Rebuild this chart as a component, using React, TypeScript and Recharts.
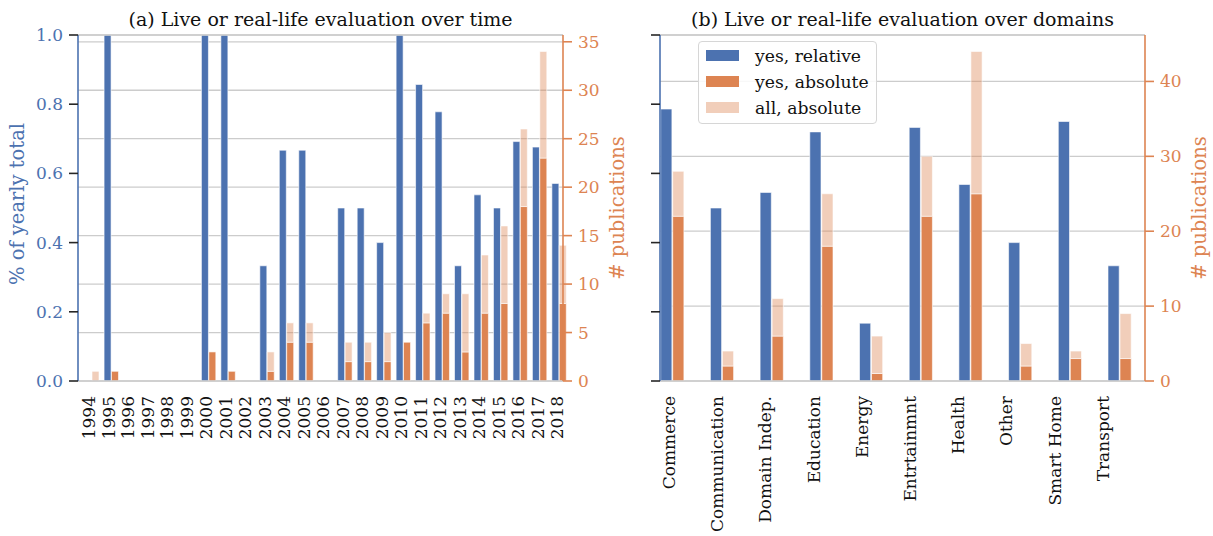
import React from 'react';
import { BarChart, Bar, XAxis, YAxis, CartesianGrid, ReferenceLine, Legend } from 'recharts';

const BLUE = '#4c72b0';
const ORANGE = '#dd8452';
const GRID = '#cccccc';
const TICK_DARK = '#262626';
const FONT = '"DejaVu Serif", serif';
const TICK_FS = 17;

// ---- Panel (a): per year ----
const years = ['1994', '1995', '1996', '1997', '1998', '1999', '2000', '2001', '2002', '2003', '2004', '2005', '2006', '2007', '2008', '2009', '2010', '2011', '2012', '2013', '2014', '2015', '2016', '2017', '2018'];
const yearRelative = [0, 1, 0, 0, 0, 0, 1, 1, 0, 0.333, 0.667, 0.667, 0, 0.5, 0.5, 0.4, 1, 0.857, 0.778, 0.333, 0.538, 0.5, 0.692, 0.676, 0.571];
const yearYesAbsolute = [0, 1, 0, 0, 0, 0, 3, 1, 0, 1, 4, 4, 0, 2, 2, 2, 4, 6, 7, 3, 7, 8, 18, 23, 8];
const yearAllAbsolute = [1, 1, 0, 0, 0, 0, 3, 1, 0, 3, 6, 6, 0, 4, 4, 5, 4, 7, 9, 9, 13, 16, 26, 34, 14];

// ---- Panel (b): per domain ----
const domains = ['Commerce', 'Communication', 'Domain Indep.', 'Education', 'Energy', 'Entrtainmnt', 'Health', 'Other', 'Smart Home', 'Transport'];
const domainRelative = [0.786, 0.5, 0.545, 0.72, 0.167, 0.733, 0.568, 0.4, 0.75, 0.333];
const domainYesAbsolute = [22, 2, 6, 18, 1, 22, 25, 2, 3, 3];
const domainAllAbsolute = [28, 4, 11, 25, 6, 30, 44, 5, 4, 9];

// ---- Axis ticks / limits ----
const relTicks = [0, 0.2, 0.4, 0.6, 0.8, 1.0];
const yearCountTicks = [0, 5, 10, 15, 20, 25, 30, 35];
const domainCountTicks = [0, 10, 20, 30, 40];
const yearCountMax = 35.7;
const domainCountMax = 46.2;

const legendItems = [
  { label: 'yes, relative', color: BLUE, opacity: 1 },
  { label: 'yes, absolute', color: ORANGE, opacity: 1 },
  { label: 'all, absolute', color: ORANGE, opacity: 0.4 },
];

const buildTable = (names: string[], rel: number[], yes: number[], all: number[]) =>
  names.map((name, i) => ({ name, rel: rel[i], yes: yes[i], rest: all[i] - yes[i] }));

const yearTable = buildTable(years, yearRelative, yearYesAbsolute, yearAllAbsolute);
const domainTable = buildTable(domains, domainRelative, domainYesAbsolute, domainAllAbsolute);

const RotTick = (props: any) => {
  const { x, y, payload } = props;
  return (
    <text
      x={x}
      y={y}
      transform={`rotate(-90, ${x}, ${y})`}
      textAnchor="end"
      dominantBaseline="central"
      fontFamily={FONT}
      fontSize={TICK_FS}
      fill="#111"
    >
      {payload.value}
    </text>
  );
};

const rotLabel = (text: string, color: string, dx: number, dy: number) => (props: any) => {
  const vb = props.viewBox || {};
  const x = vb.x + dx;
  const y = vb.y + vb.height / 2 + dy;
  return (
    <text
      x={x}
      y={y}
      transform={`rotate(-90, ${x}, ${y})`}
      textAnchor="middle"
      dominantBaseline="central"
      fontFamily={FONT}
      fontSize={19.5}
      fill={color}
    >
      {text}
    </text>
  );
};

const titleLabel = (text: string) => (props: any) => {
  const vb = props.viewBox || {};
  return (
    <text
      x={vb.x + (vb.width || 0) / 2}
      y={vb.y - 9}
      textAnchor="middle"
      fontFamily={FONT}
      fontSize={19}
      fill="#111"
    >
      {text}
    </text>
  );
};

const LegendBox = () => (
  <div
    style={{
      position: 'relative',
      width: 179,
      height: 83,
      boxSizing: 'border-box',
      border: '1px solid #d6d6d6',
      borderRadius: 4,
      background: 'rgba(255,255,255,0.85)',
      fontFamily: FONT,
      fontSize: 17.2,
      color: '#111',
    }}
  >
    {legendItems.map((it, i) => (
      <div key={it.label} style={{ position: 'absolute', left: 0, top: 14 + i * 26 - 10, height: 20, width: 179 }}>
        <div
          style={{
            position: 'absolute',
            left: 7,
            top: 4.5,
            width: 33,
            height: 11,
            background: it.color,
            opacity: it.opacity,
          }}
        />
        <div style={{ position: 'absolute', left: 56, top: 0, lineHeight: '20px', whiteSpace: 'nowrap' }}>{it.label}</div>
      </div>
    ))}
  </div>
);

interface PanelProps {
  data: any[];
  title: string;
  width: number;
  leftWidth: number;
  rightWidth: number;
  barPad: { left: number; right: number };
  labelPad: { left: number; right: number };
  barSize: number;
  barGap: number;
  countMax: number;
  countTicks: number[];
  showRelLabels: boolean;
  showLegend: boolean;
}

function Panel(p: PanelProps) {
  return (
    <BarChart
      width={p.width}
      height={536}
      data={p.data}
      margin={{ top: 35, right: 0, bottom: 0, left: 0 }}
      barSize={p.barSize}
      barGap={p.barGap}
    >
      <XAxis
        xAxisId="labels"
        dataKey="name"
        height={155}
        interval={0}
        padding={p.labelPad}
        tickLine={false}
        tickSize={0}
        tickMargin={15}
        axisLine={{ stroke: GRID, strokeWidth: 1.5 }}
        tick={<RotTick />}
      />
      <XAxis xAxisId="bars" dataKey="name" hide height={0} padding={p.barPad} />
      <YAxis
        yAxisId="rel"
        orientation="left"
        width={p.leftWidth}
        domain={[0, 1]}
        ticks={relTicks}
        allowDataOverflow
        interval={0}
        tickSize={9}
        tickMargin={6}
        tickLine={{ stroke: TICK_DARK, strokeWidth: 1.6 }}
        axisLine={{ stroke: BLUE, strokeWidth: 1.6 }}
        tick={{ fill: BLUE, fontSize: TICK_FS, fontFamily: FONT }}
        tickFormatter={(v: number) => (p.showRelLabels ? v.toFixed(1) : '')}
        label={p.showRelLabels ? { content: rotLabel('% of yearly total', BLUE, 17.5, -4) } : undefined}
      />
      <YAxis
        yAxisId="count"
        orientation="right"
        width={p.rightWidth}
        domain={[0, p.countMax]}
        ticks={p.countTicks}
        allowDataOverflow
        interval={0}
        tickSize={9}
        tickMargin={6}
        tickLine={{ stroke: ORANGE, strokeWidth: 1.6 }}
        axisLine={{ stroke: ORANGE, strokeWidth: 1.6 }}
        tick={{ fill: ORANGE, fontSize: TICK_FS, fontFamily: FONT }}
        label={{ content: rotLabel('# publications', ORANGE, 54, 0) }}
      />
      <Bar
        xAxisId="bars"
        yAxisId="rel"
        dataKey="rel"
        stackId="rel"
        fill={BLUE}
        stroke="#ffffff"
        strokeWidth={0.6}
        isAnimationActive={false}
      />
      <CartesianGrid xAxisId="bars" yAxisId="count" vertical={false} stroke={GRID} strokeWidth={1.3} />
      <Bar
        xAxisId="bars"
        yAxisId="count"
        dataKey="yes"
        stackId="abs"
        fill={ORANGE}
        stroke="#ffffff"
        strokeWidth={0.6}
        isAnimationActive={false}
      />
      <Bar
        xAxisId="bars"
        yAxisId="count"
        dataKey="rest"
        stackId="abs"
        fill={ORANGE}
        fillOpacity={0.4}
        stroke="#ffffff"
        strokeWidth={0.6}
        isAnimationActive={false}
      />
      <ReferenceLine
        xAxisId="bars"
        yAxisId="rel"
        y={1}
        stroke={GRID}
        strokeWidth={1.5}
        label={{ content: titleLabel(p.title) }}
      />
      {p.showLegend ? (
        <Legend
          verticalAlign="middle"
          align="center"
          layout="horizontal"
          content={() => <LegendBox />}
          wrapperStyle={{ left: 58, top: 40.5, width: 179, height: 83 }}
        />
      ) : null}
    </BarChart>
  );
}

export default function App() {
  return (
    <div style={{ position: 'absolute', left: 0, top: 0, width: 1213, height: 536, background: '#fff', overflow: 'hidden' }}>
      <div style={{ position: 'absolute', left: 0, top: 0 }}>
        <Panel
          data={yearTable}
          title="(a) Live or real-life evaluation over time"
          width={640}
          leftWidth={78}
          rightWidth={77}
          barPad={{ left: 3.6, right: -5.35 }}
          labelPad={{ left: 1.45, right: -4.2 }}
          barSize={7}
          barGap={0.4}
          countMax={yearCountMax}
          countTicks={yearCountTicks}
          showRelLabels={true}
          showLegend={false}
        />
      </div>
      <div style={{ position: 'absolute', left: 640, top: 0 }}>
        <Panel
          data={domainTable}
          title="(b) Live or real-life evaluation over domains"
          width={573}
          leftWidth={20}
          rightWidth={68}
          barPad={{ left: -12.3, right: 0.3 }}
          labelPad={{ left: -15.1, right: 18.1 }}
          barSize={11.2}
          barGap={0.8}
          countMax={domainCountMax}
          countTicks={domainCountTicks}
          showRelLabels={false}
          showLegend={true}
        />
      </div>
    </div>
  );
}
